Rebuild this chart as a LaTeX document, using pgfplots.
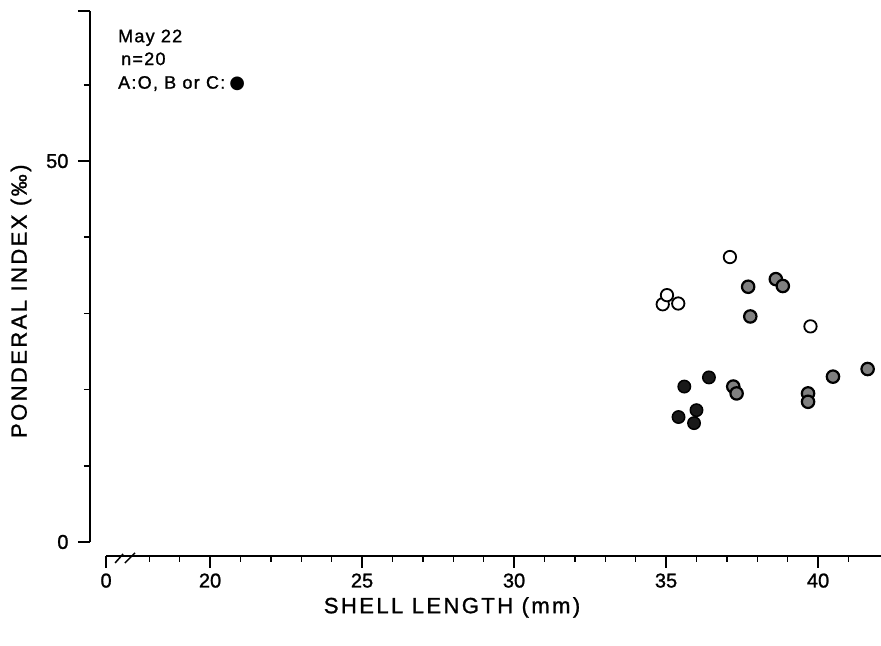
\documentclass[border=0pt]{standalone}
\usepackage{pgfplots}
\pgfplotsset{compat=1.18}
\usepackage{fontspec}
\setmainfont[FakeBold=1.2]{Liberation Sans}
\newfontfamily\labfont[LetterSpace=11,FakeBold=1.2]{Liberation Sans}
\newfontfamily\txtfont[LetterSpace=7,FakeBold=1.2]{Liberation Sans}
\newfontfamily\tickfont[FakeBold=1.2]{Liberation Sans}
\newfontfamily\symfont{DejaVu Sans}

\begin{document}
\begin{tikzpicture}
\begin{axis}[
  scale only axis, width=791pt, height=545pt,
  xmin=16.05, xmax=42.07, ymin=-1.84, ymax=69.7,
  axis lines*=left,
  axis line style={draw=none},
  clip=false,
  tick align=outside,
  major tick length=12pt, minor tick length=6pt,
  every tick/.style={black, line width=1.5pt},
  xtick={16.58,20,25,30,35,40}, xticklabels={0,20,25,30,35,40},
  minor xtick={18,19,21,22,23,24,26,27,28,29,31,32,33,34,36,37,38,39,41},
  ytick={0,50}, yticklabels={0,50},
  minor ytick={10,20,30,40,60},
  extra y ticks={69.7}, extra y tick labels={},
  /pgf/number format/assume math mode=true,
  tick label style={font=\tickfont\fontsize{20}{22}\selectfont},
  xticklabel style={yshift=-2pt},
  yticklabel style={xshift=-6pt},
]
% axis lines
\draw[line width=2pt] (axis cs:16.05,0) -- (axis cs:16.05,69.7);
\draw[line width=2pt] (axis cs:16.58,-1.84) -- (axis cs:42.07,-1.84);
% break marks
\draw[line width=1.5pt] (axis cs:16.875,-2.76) -- (axis cs:17.14,-1.57);
\draw[line width=1.5pt] (axis cs:17.20,-2.76) -- (axis cs:17.53,-1.44);

% A: open circles
\addplot[only marks, mark=*, mark size=6.2pt,
  mark options={draw=black, fill=white, line width=1.8pt}]
coordinates {
(34.89,31.2) (35.03,32.4) (35.40,31.3) (37.10,37.4) (39.75,28.3)
};
% B or C: filled (grey centre)
\addplot[only marks, mark=*, mark size=6.2pt,
  mark options={draw=black, fill=black!50, line width=2.2pt}]
coordinates {
(37.70,33.5) (37.77,29.6) (38.61,34.5) (38.84,33.6)
(37.21,20.4) (37.32,19.5) (39.67,19.5) (39.67,18.4)
(40.49,21.7) (41.63,22.7)
};
% B or C: filled (black)
\addplot[only marks, mark=*, mark size=6.2pt,
  mark options={draw=black, fill=black!90, line width=1.5pt}]
coordinates {
(35.60,20.4) (36.41,21.6) (35.41,16.4) (36.00,17.3) (35.92,15.6)
};

% annotation
\node[anchor=base west, inner sep=0pt, font=\txtfont\fontsize{18}{20}\selectfont] at (axis cs:16.97,65.6) {May 22};
\node[anchor=base west, inner sep=0pt, font=\txtfont\fontsize{18}{20}\selectfont] at (axis cs:17.07,62.6) {n=20};
\node[anchor=base west, inner sep=0pt, font=\txtfont\fontsize{18}{20}\selectfont] at (axis cs:16.97,59.5) {A:O, B or C:\hspace{4pt}{\symfont●}};

% axis labels
\node[rotate=90, font=\labfont\fontsize{22}{24}\selectfont] at (axis cs:13.78,31.6) {PONDERAL INDEX (‰)};
\node[font=\labfont\fontsize{22}{24}\selectfont] at (axis cs:27.96,-8.6) {SHELL LENGTH (mm)};

\coordinate (bl) at (axis cs:13.09,-13.65);
\coordinate (tr) at (axis cs:42.07,71.14);
\end{axis}
\pgfresetboundingbox
\path[use as bounding box] (bl) rectangle (tr);
\end{tikzpicture}
\end{document}
